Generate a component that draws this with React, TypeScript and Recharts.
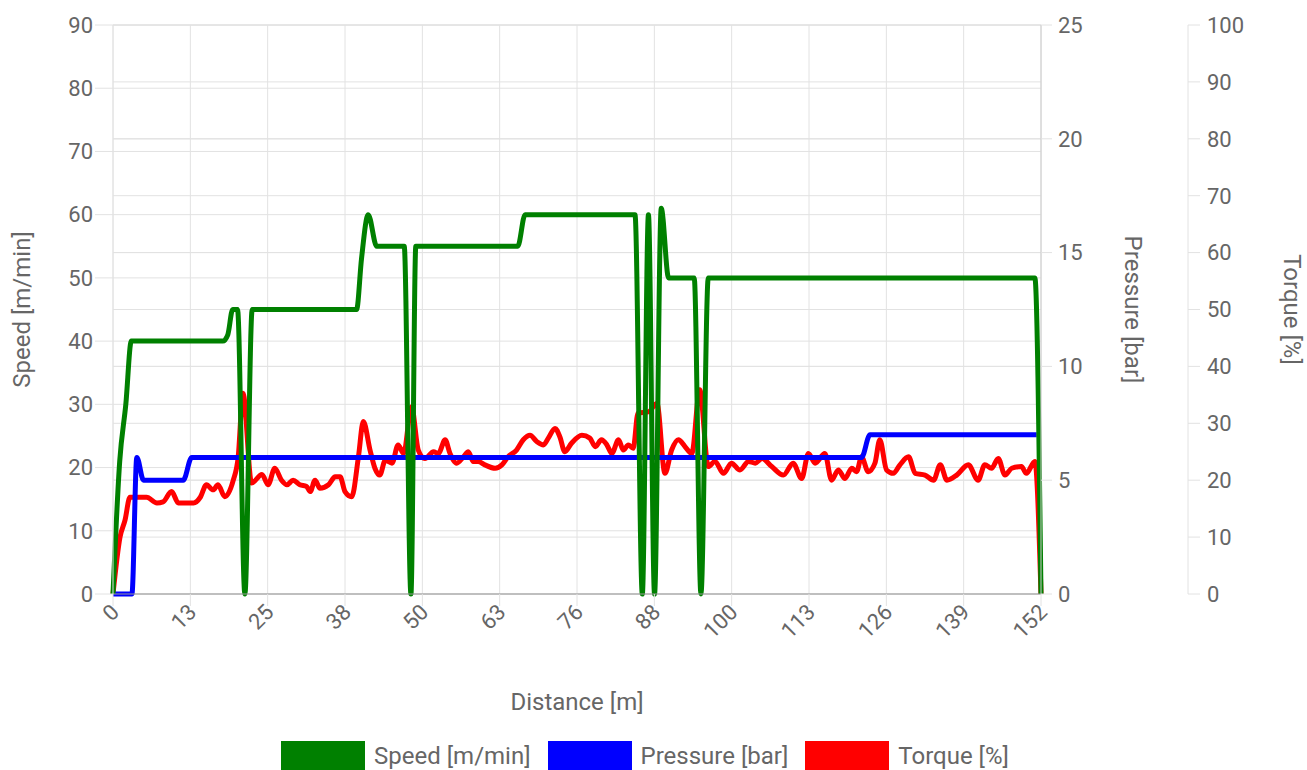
import { LineChart, Line, XAxis, YAxis, CartesianGrid, Legend } from "recharts"

// distance [m] -> value
const speedPoints: [number, number][] = [
  [0, 0], [1.1, 21], [2.1, 30], [3, 40], [18, 40], [18.8, 41], [19.6, 45], [20.4, 45], [21.6, 0], [22.8, 45],
  [39.9, 45], [40.7, 53], [41.8, 60], [43.2, 55], [47.7, 55], [48.8, 0], [49.6, 55], [66.3, 55], [67.5, 60],
  [85.5, 60], [86.7, 0], [87.7, 60], [88.7, 0], [89.8, 61], [91, 50], [95.2, 50], [96.3, 0], [97.5, 50],
  [151, 50], [152, 0],
]

const pressurePoints: [number, number][] = [
  [0, 0], [3.1, 0], [3.9, 6], [5, 5], [11.5, 5], [12.9, 6], [122.6, 6], [124, 7], [151.3, 7],
]

const torquePoints: [number, number][] = [
  [0, 0], [1.15, 10], [1.97, 13], [2.78, 17], [3.6, 17], [5.5, 17], [7.2, 16], [8.2, 16.2], [9.6, 18], [10.7, 16],
  [13.2, 16], [14.3, 17], [15.3, 19.2], [16.4, 18.3], [17.2, 19.2], [18.3, 17.1], [19.7, 20], [20.5, 24], [21.3, 35.3],
  [22.7, 19.5], [24.4, 21], [25.4, 19.2], [26.5, 22.1], [27.6, 20], [28.5, 19.2], [29.5, 20], [30.6, 19.2], [31.7, 18.9],
  [32.3, 18], [33.1, 20], [33.9, 18.6], [35.3, 19.2], [36.4, 20.6], [37.2, 20.6], [38, 18], [39.1, 17.1], [40.2, 24.1],
  [41, 30.3], [42.1, 25.3], [42.9, 22.1], [43.7, 20.9], [44.6, 23.5], [45.7, 23], [46.7, 26.2], [47.6, 24.7], [48.9, 32.9],
  [50, 25.3], [51.1, 23.8], [52.5, 25], [53.3, 24.7], [54.4, 27.1], [55.2, 24.7], [56.3, 23], [57.4, 24.1], [58.2, 25],
  [59, 23.3], [59.8, 23.3], [60.9, 22.7], [62.6, 22.1], [63.7, 22.7], [64.7, 24.1], [66.1, 25.3], [67.2, 27.1], [68.3, 27.9],
  [69.4, 26.8], [70.5, 26.2], [71.3, 27.4], [72.4, 29.1], [73.2, 27.6], [74, 25], [75.1, 26.5], [76.8, 27.9], [78.1, 27.4],
  [79, 25.9], [80, 27.1], [80.9, 26.2], [81.7, 24.7], [82.8, 27.1], [83.6, 25.3], [84.4, 26.2], [85.2, 25.6], [86, 31.8],
  [87.7, 32], [89.1, 33.5], [90.4, 21.2], [91.5, 25.3], [92.6, 27.1], [93.7, 25.9], [94.8, 24.7], [96.1, 35.9], [97.5, 22.4],
  [98.6, 23.3], [100, 21.2], [101.3, 23], [102.7, 21.8], [104.1, 23.3], [105.2, 23], [106.3, 23.8], [107.9, 22.4],
  [109.8, 20.9], [111.4, 23], [112.8, 20.3], [113.9, 24.7], [115, 23], [116.6, 24.7], [117.7, 20], [118.8, 21.8],
  [119.9, 20.3], [121, 22.1], [121.8, 21.5], [122.6, 24.1], [123.7, 21.5], [124.8, 23], [125.6, 27.1], [126.7, 21.8],
  [127.8, 21.2], [128.9, 22.7], [130.3, 24.1], [131.4, 21.2], [133, 20.9], [134.4, 20], [135.5, 22.7], [136.6, 20],
  [138.2, 20.9], [140.1, 22.7], [141.7, 20], [142.8, 22.7], [143.9, 22.1], [145, 23.8], [146.1, 20.9], [147.2, 22.1],
  [148.8, 22.4], [149.6, 21.2], [151, 23.3], [152, 0],
]

const xTickValues = [0, 12.67, 25.33, 38, 50.67, 63.33, 76, 88.67, 101.33, 114, 126.67, 139.33, 152]
const xTickLabels = ["0", "13", "25", "38", "50", "63", "76", "88", "100", "113", "126", "139", "152"]
const speedTicks = [0, 10, 20, 30, 40, 50, 60, 70, 80, 90]
const pressureTicks = [0, 5, 10, 15, 20, 25]
const torqueTicks = [0, 10, 20, 30, 40, 50, 60, 70, 80, 90, 100]

const legendItems = [
  { label: "Speed [m/min]", color: "#008000" },
  { label: "Pressure [bar]", color: "#0000ff" },
  { label: "Torque [%]", color: "#ff0000" },
]

const toRows = (pts: [number, number][]) => pts.map(([d, v]) => ({ d, v }))

const FONT = "Roboto"
const TEXT = "#666"
const GRID = "#e2e2e2"
const TICK_SIZE = 22
const TITLE_SIZE = 24

const axisTitle = (text: string, angle: number, dx: number, dy = 0) => (props: any) => {
  const { x, y, width, height } = props.viewBox
  const cx = x + width / 2 + dx
  const cy = y + height / 2 + dy
  return (
    <text x={cx} y={cy} transform={`rotate(${angle}, ${cx}, ${cy})`} textAnchor="middle"
      dominantBaseline="central" fill={TEXT} fontSize={TITLE_SIZE} fontFamily={FONT}>
      {text}
    </text>
  )
}

const XTick = ({ x, y, index }: any) => (
  <g transform={`translate(${x + 2},${y})`}>
    <text x={0} y={0} dy="0.35em" textAnchor="end" transform="rotate(-45)" fill={TEXT} fontSize={TICK_SIZE} fontFamily={FONT}>
      {xTickLabels[index]}
    </text>
  </g>
)

const renderLegend = () => (
  <div style={{ display: "flex", justifyContent: "center", alignItems: "center", height: 30, fontFamily: FONT, fontSize: TITLE_SIZE, color: TEXT }}>
    {legendItems.map((item) => (
      <div key={item.label} style={{ display: "flex", alignItems: "center", marginRight: 17 }}>
        <span style={{ display: "inline-block", width: 84, height: 30, background: item.color, marginRight: 9 }} />
        <span>{item.label}</span>
      </div>
    ))}
  </div>
)

export default function App() {
  const tickStyle = { fill: TEXT, fontSize: TICK_SIZE, fontFamily: FONT }
  return (
    <div style={{ position: "fixed", left: 0, top: 0, width: 1307, height: 770, overflow: "hidden", background: "#fff" }}>
      <LineChart width={1307} height={770} margin={{ top: 25, right: 0, bottom: -1, left: 0 }}>
        <CartesianGrid yAxisId="speed" stroke={GRID} strokeWidth={1} />
        <CartesianGrid yAxisId="pressure" vertical={false} stroke={GRID} strokeWidth={1} />
        <CartesianGrid yAxisId="torque" vertical={false} stroke={GRID} strokeWidth={1} />
        <XAxis
          type="number"
          dataKey="d"
          domain={[0, 152]}
          ticks={xTickValues}
          interval={0}
          height={147}
          tickSize={12}
          tick={<XTick />}
          tickLine={{ stroke: GRID }}
          axisLine={{ stroke: "#999" }}
          label={{ content: axisTitle("Distance [m]", 0, 0, 34) }}
        />
        <YAxis
          yAxisId="speed"
          domain={[0, 90]}
          ticks={speedTicks}
          interval={0}
          width={113}
          tickSize={18}
          tickMargin={2}
          tick={tickStyle}
          tickLine={{ stroke: GRID }}
          axisLine={{ stroke: GRID }}
          label={{ content: axisTitle("Speed [m/min]", -90, -34.5) }}
        />
        <YAxis
          yAxisId="pressure"
          orientation="right"
          domain={[0, 25]}
          ticks={pressureTicks}
          interval={0}
          width={147}
          tickSize={11}
          tickMargin={6}
          tick={tickStyle}
          tickLine={{ stroke: GRID }}
          axisLine={{ stroke: "#ccc" }}
          label={{ content: axisTitle("Pressure [bar]", 90, 18.5) }}
        />
        <YAxis
          yAxisId="torque"
          orientation="right"
          domain={[0, 100]}
          ticks={torqueTicks}
          interval={0}
          width={119}
          tickSize={12}
          tickMargin={7}
          tick={tickStyle}
          tickLine={{ stroke: GRID }}
          axisLine={{ stroke: GRID }}
          label={{ content: axisTitle("Torque [%]", 90, 44.5) }}
        />
        <Legend verticalAlign="bottom" content={renderLegend} />
        <Line yAxisId="torque" data={toRows(torquePoints)} dataKey="v" type="monotone" stroke="#ff0000" strokeWidth={5} dot={false} isAnimationActive={false} />
        <Line yAxisId="pressure" data={toRows(pressurePoints)} dataKey="v" type="monotone" stroke="#0000ff" strokeWidth={5} dot={false} isAnimationActive={false} />
        <Line yAxisId="speed" data={toRows(speedPoints)} dataKey="v" type="monotone" stroke="#008000" strokeWidth={5} dot={false} isAnimationActive={false} />
      </LineChart>
    </div>
  )
}
